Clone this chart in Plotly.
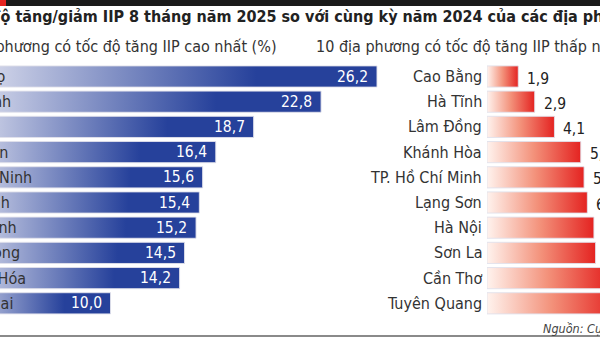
import plotly.graph_objects as go

# ---------------- data ----------------
top_names = ["Phú Thọ", "Bắc Ninh", "Huế", "Nghệ An", "Quảng Ninh",
             "Tây Ninh", "Ninh Bình", "Hải Phòng", "Thanh Hóa", "Đồng Nai"]
top_values = [26.2, 22.8, 18.7, 16.4, 15.6, 15.4, 15.2, 14.5, 14.2, 10.0]

low_names = ["Cao Bằng", "Hà Tĩnh", "Lâm Đồng", "Khánh Hòa", "TP. Hồ Chí Minh",
             "Lạng Sơn", "Hà Nội", "Sơn La", "Cần Thơ", "Tuyên Quang"]
low_values = [1.9, 2.9, 4.1, 5.7, 5.9, 6.1, 6.5, 6.6, 7.4, 7.9]

title_text = "Tốc độ tăng/giảm IIP 8 tháng năm 2025 so với cùng kỳ năm 2024 của các địa phương"
sub_left = "10 địa phương có tốc độ tăng IIP cao nhất (%)"
sub_right = "10 địa phương có tốc độ tăng IIP thấp nhất (%)"
source_text = "Nguồn: Cục Thống kê"

# ---------------- style ----------------
W, H = 600, 337
PX = 16.45            # pixels per percentage point
FONT = "DejaVu Sans Condensed, Roboto, sans-serif"
BLUE_SCALE = [[0, "#EEEEF6"], [0.72, "#26419B"], [1, "#26419B"]]
RED_SCALE = [[0, "#FFF3EE"], [0.5, "#F3917A"], [1, "#E42321"]]
HALF = 0.42

def px(x):
    return x / W

def py(y):
    return 1 - y / H

fig = go.Figure()

def add_bar(i, v, xa, scale):
    xs = [0, v, v, 0, 0]
    ys = [i - HALF, i - HALF, i + HALF, i + HALF, i - HALF]
    fig.add_trace(go.Scatter(
        x=xs, y=ys, xaxis=xa, yaxis="y", mode="lines", fill="toself",
        line=dict(color="rgba(225,225,235,0.9)", width=1),
        fillgradient=dict(type="horizontal", colorscale=scale),
        hoverinfo="skip", showlegend=False))

for i, v in enumerate(top_values):
    add_bar(i, v, "x", BLUE_SCALE)
for i, v in enumerate(low_values):
    add_bar(i, v, "x2", RED_SCALE)

ann = []
for i, (n, v) in enumerate(zip(top_names, top_values)):
    ann.append(dict(xref="x", yref="y", x=v, y=i, xanchor="right", yanchor="middle",
                    xshift=-7, text=f"{v:.1f}".replace(".", ","), showarrow=False,
                    font=dict(family=FONT, size=15.5, color="white")))
    ann.append(dict(xref="paper", yref="y", x=px(-55), y=i, xanchor="left", yanchor="middle",
                    text=n, showarrow=False,
                    font=dict(family=FONT, size=16, color="#333333")))
for i, (n, v) in enumerate(zip(low_names, low_values)):
    ann.append(dict(xref="x2", yref="y", x=v, y=i, xanchor="left", yanchor="middle",
                    xshift=7, yshift=-2, text=f"{v:.1f}".replace(".", ","), showarrow=False,
                    font=dict(family=FONT, size=15.5, color="#222222")))
    ann.append(dict(xref="paper", yref="y", x=px(484), y=i, xanchor="right", yanchor="middle",
                    text=n, showarrow=False,
                    font=dict(family=FONT, size=16, color="#333333")))

ann.append(dict(xref="paper", yref="paper", x=px(-45), y=py(17), xanchor="left", yanchor="middle",
                text="<b>" + title_text + "</b>", showarrow=False,
                font=dict(family=FONT, size=16, color="#222222")))
ann.append(dict(xref="paper", yref="paper", x=px(-56), y=py(46), xanchor="left", yanchor="middle",
                text=sub_left, showarrow=False,
                font=dict(family=FONT, size=16, color="#333333")))
ann.append(dict(xref="paper", yref="paper", x=px(314), y=py(46), xanchor="left", yanchor="middle",
                text=sub_right, showarrow=False,
                font=dict(family=FONT, size=16, color="#333333")))
ann.append(dict(xref="paper", yref="paper", x=px(541), y=py(328), xanchor="left", yanchor="middle",
                text="<i>" + source_text + "</i>", showarrow=False,
                font=dict(family=FONT, size=12.5, color="#444444")))

shapes = [
    dict(type="rect", xref="paper", yref="paper", x0=0, x1=1, y0=py(6), y1=1,
         fillcolor="#1a1a1a", line=dict(width=0), layer="above"),
    dict(type="rect", xref="paper", yref="paper", x0=0, x1=px(6), y0=py(6), y1=1,
         fillcolor="#E42321", line=dict(width=0), layer="above"),
    dict(type="line", xref="paper", yref="paper", x0=0, x1=1, y0=py(336), y1=py(336),
         line=dict(color="#8a8a8a", width=2)),
]

y_top = -76.5 / 25.2
y_bot = (H - 76.5) / 25.2

fig.update_layout(
    width=W, height=H, margin=dict(l=0, r=0, t=0, b=0),
    paper_bgcolor="white", plot_bgcolor="rgba(0,0,0,0)",
    xaxis=dict(domain=[0, 420 / W], range=[54 / PX, (54 + 420) / PX], visible=False, fixedrange=True),
    xaxis2=dict(domain=[487 / W, 1], range=[0, 113 / PX], visible=False, fixedrange=True),
    yaxis=dict(domain=[0, 1], range=[y_bot, y_top], visible=False, fixedrange=True),
    annotations=ann, shapes=shapes, showlegend=False,
)

fig.write_html("out.html", config={"displayModeBar": False})
